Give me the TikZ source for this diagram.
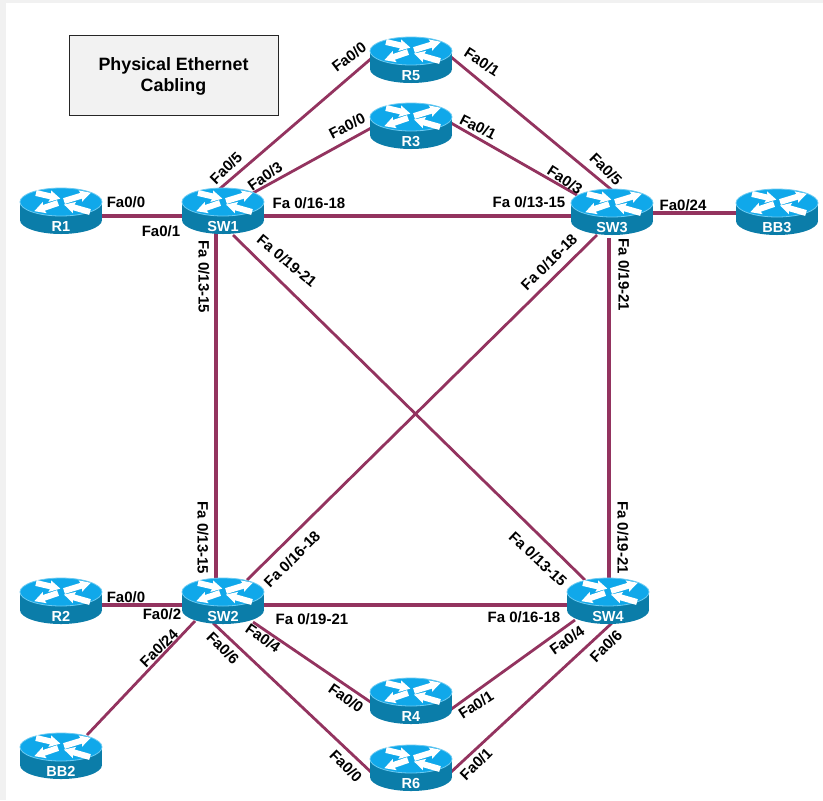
\documentclass[tikz,border=0pt]{standalone}
\usepackage{fontspec}
\setmainfont{Liberation Sans}
\pgfdeclarelayer{bg}
\pgfsetlayers{bg,main}
\definecolor{linkcol}{HTML}{93335F}
\definecolor{rtop}{HTML}{10A8EA}
\definecolor{rrim}{HTML}{6CCBF2}
\definecolor{rbody}{HTML}{0B7DA9}
\definecolor{margin}{HTML}{F1F1F1}
\definecolor{titlefill}{HTML}{F2F2F2}
\tikzset{
  link/.style={draw=linkcol,line width=2.5pt},
  thinlink/.style={draw=linkcol,line width=2.1pt},
  portlabel/.style={font=\fontsize{11.25}{13}\selectfont\bfseries,text=black,inner sep=0pt},
  routerbox/.style={minimum width=61.5pt,minimum height=34.5pt,inner sep=0pt,text=white,font=\fontsize{10.9}{12}\selectfont\bfseries},
  titlebox/.style={draw=black!85,line width=0.6pt,fill=titlefill,align=center,minimum width=156.75pt,minimum height=60pt,inner sep=0pt,font=\fontsize{13.4}{15.75}\selectfont\bfseries}
}
\newcommand{\rarrow}[4]{\fill[white,shift={(#1,#2)},rotate=#3] (0,-3) -- (#4-10,-3) -- (#4-11,-6) -- (#4,0) -- (#4-11,6) -- (#4-10,3) -- (0,3) -- cycle;}
\newcommand{\router}[4]{%
  \begin{scope}[shift={(#2,#3)}]
    \fill[rbody] (-41,-9) rectangle (41,9);
    \fill[rbody] (0,9) ellipse [x radius=41,y radius=14];
    \fill[rtop,draw=rrim,line width=0.6pt] (0,-9) ellipse [x radius=41,y radius=14];
    \begin{scope}[yshift=6.75pt]
      \rarrow{-25}{-9}{-13}{25}
      \rarrow{3}{-1}{17}{28}
      \rarrow{-3}{1}{199}{25}
      \rarrow{29}{10}{164}{27}
    \end{scope}
    \node[routerbox] (#1) at (0,0) {\smash{\raisebox{-15.6pt}{#4}}};
  \end{scope}}
\newcommand{\port}[5]{\node[portlabel,rotate=#4] (#1) at (#2,#3) {#5};}
\begin{document}
\begin{tikzpicture}[x=0.75pt,y=-0.75pt]
\useasboundingbox (0,0) rectangle (823,800);
\begin{pgfonlayer}{bg}
  \fill[margin] (0,0) rectangle (823,800);
  \fill[white] (6,3) rectangle (823,800);
\end{pgfonlayer}

\node[titlebox] (title) at (173.5,75) {\rule{0pt}{11.2pt}Physical Ethernet\\Cabling};

\router{R1}{61}{211}{R1}
\router{SW1}{223}{211}{SW1}
\router{R5}{411}{60}{R5}
\router{R3}{411}{126}{R3}
\router{SW3}{612}{212}{SW3}
\router{BB3}{777}{212}{BB3}
\router{SW4}{608}{601}{SW4}
\router{SW2}{223}{601}{SW2}
\router{R2}{61}{601}{R2}
\router{BB2}{61}{756}{BB2}
\router{R4}{411}{701}{R4}
\router{R6}{411}{768}{R6}

\begin{pgfonlayer}{bg}
  \draw[link] ([shift={(30,5)}]R1.center) -- ([shift={(-30,5)}]SW1.center);
  \draw[link] ([shift={(30,5)}]SW1.center) -- ([shift={(-30,4)}]SW3.center);
  \draw[link] ([shift={(30,1)}]SW3.center) -- ([shift={(-30,1)}]BB3.center);
  \draw[link] ([shift={(-7,20)}]SW1.center) -- ([shift={(-7,-20)}]SW2.center);
  \draw[link] ([shift={(-3,26)}]SW3.center) -- ([shift={(1,-20)}]SW4.center);
  \draw[link] ([shift={(30,4)}]SW2.center) -- ([shift={(-30,4)}]SW4.center);
  \draw[link] ([shift={(30,4)}]R2.center) -- ([shift={(-30,4)}]SW2.center);
  \draw[thinlink] ([shift={(10,24)}]SW1.center) -- ([shift={(-23,-21)}]SW4.center);
  \draw[thinlink] ([shift={(-15,23)}]SW3.center) -- ([shift={(24,-21)}]SW2.center);
  \draw[thinlink] ([shift={(-38,-3)}]R5.center) -- ([shift={(-7,-19)}]SW1.center);
  \draw[thinlink] ([shift={(40,-3)}]R5.center) -- ([shift={(1,-21)}]SW3.center);
  \draw[thinlink] ([shift={(-38,1)}]R3.center) -- ([shift={(30,-18)}]SW1.center);
  \draw[thinlink] ([shift={(40,-3)}]R3.center) -- ([shift={(-35,-17)}]SW3.center);
  \draw[thinlink] ([shift={(-28,20)}]SW2.center) -- ([shift={(26,-21)}]BB2.center);
  \draw[thinlink] ([shift={(30,21)}]SW2.center) -- ([shift={(-39,2)}]R4.center);
  \draw[thinlink] ([shift={(-10,22)}]SW2.center) -- ([shift={(-39,5)}]R6.center);
  \draw[thinlink] ([shift={(-33,19)}]SW4.center) -- ([shift={(39,9)}]R4.center);
  \draw[thinlink] ([shift={(4,22)}]SW4.center) -- ([shift={(39,5)}]R6.center);
\end{pgfonlayer}

\port{p1}{126}{202}{0}{Fa0/0}
\port{p2}{161}{231}{0}{Fa0/1}
\port{p3}{204}{277}{-90}{Fa 0/13-15}
\port{p4}{309}{203}{0}{Fa 0/16-18}
\port{p5}{287}{261}{-40}{Fa 0/19-21}
\port{p6}{226}{168}{45}{Fa0/5}
\port{p7}{265}{176}{35}{Fa0/3}
\port{p8}{349}{57}{37}{Fa0/0}
\port{p9}{347}{126}{27}{Fa0/0}
\port{p10}{482}{62}{-33}{Fa0/1}
\port{p11}{478}{127}{-27}{Fa0/1}
\port{p12}{565}{180}{-33}{Fa0/3}
\port{p13}{606}{169}{-45}{Fa0/5}
\port{p14}{529}{202}{0}{Fa 0/13-15}
\port{p15}{683}{205}{0}{Fa0/24}
\port{p16}{549}{262}{45}{Fa 0/16-18}
\port{p17}{624}{275}{-90}{Fa 0/19-21}
\port{p18}{623}{537.5}{-90}{Fa 0/19-21}
\port{p19}{538}{559}{-43}{Fa 0/13-15}
\port{p20}{524}{617}{0}{Fa 0/16-18}
\port{p21}{567}{640}{35}{Fa0/4}
\port{p22}{606}{646}{45}{Fa0/6}
\port{p23}{476}{705}{33}{Fa0/1}
\port{p24}{476}{764}{45}{Fa0/1}
\port{p25}{203}{538}{-90}{Fa 0/13-15}
\port{p26}{292}{559}{45}{Fa 0/16-18}
\port{p27}{126}{597}{0}{Fa0/0}
\port{p28}{162}{614}{0}{Fa0/2}
\port{p29}{312}{619}{0}{Fa 0/19-21}
\port{p30}{159}{648}{45}{Fa0/24}
\port{p31}{223}{648}{-45}{Fa0/6}
\port{p32}{263}{638}{-35}{Fa0/4}
\port{p33}{346}{698}{-35}{Fa0/0}
\port{p34}{346}{766}{-45}{Fa0/0}
\end{tikzpicture}
\end{document}
